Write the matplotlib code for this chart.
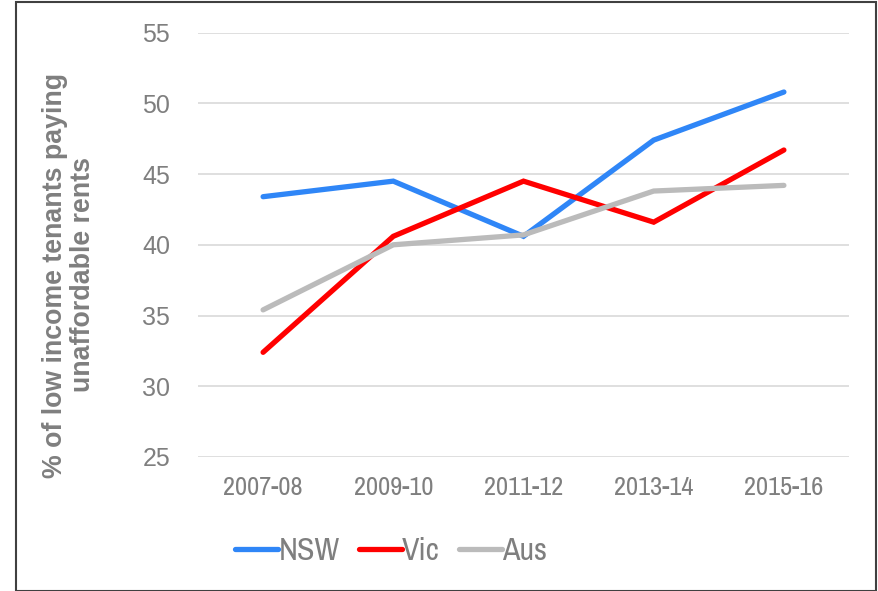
import matplotlib
matplotlib.use("Agg")
import matplotlib.pyplot as plt
from matplotlib.patches import Rectangle
from matplotlib import font_manager

categories = ["2007-08", "2009-10", "2011-12", "2013-14", "2015-16"]
nsw = [43.4, 44.5, 40.6, 47.4, 50.8]
vic = [32.4, 40.6, 44.5, 41.6, 46.7]
aus = [35.4, 40.0, 40.7, 43.8, 44.2]
yticks = [25, 30, 35, 40, 45, 50, 55]

names = {f.name for f in font_manager.fontManager.ttflist}
narrow = "Liberation Sans"
for cand in ["Liberation Sans Narrow", "Arimo Narrow", "Archivo Narrow"]:
    if cand in names:
        narrow = cand
        break

grey = "#7f7f7f"
fig = plt.figure(figsize=(8.79, 5.91), dpi=100)
ax = fig.add_axes([198/879, 1-457/591, (849-198)/879, (457-32.6)/591])

x = list(range(len(categories)))
ax.plot(x, nsw, color="#2f86f7", lw=3.8, label="NSW", solid_capstyle="round", solid_joinstyle="miter")
ax.plot(x, vic, color="#ff0000", lw=3.8, label="Vic", solid_capstyle="round", solid_joinstyle="miter")
ax.plot(x, aus, color="#bbbbbb", lw=3.8, label="Aus", solid_capstyle="round", solid_joinstyle="miter")

ax.set_xlim(-0.5, len(categories)-0.5)
ax.set_ylim(25, 55)
ax.set_yticks(yticks)
ax.set_yticklabels([str(v) for v in yticks], fontfamily="Liberation Sans", fontsize=18, color=grey)
ax.set_xticks(x)
ax.set_xticklabels(categories, fontfamily=narrow, fontsize=19, color=grey)
ax.tick_params(axis="both", length=0)
ax.tick_params(axis="y", pad=20)
ax.tick_params(axis="x", pad=14)
ax.grid(axis="y", color="#d9d9d9", lw=1.2)
ax.set_axisbelow(True)
for s in ax.spines.values():
    s.set_visible(False)

fig.text(69/879, 1-275/591, "% of low income tenants paying\nunaffordable rents",
         rotation=90, ha="center", va="center", fontfamily="Liberation Sans",
         fontweight="bold", fontsize=19.3, color=grey, linespacing=1.05)

leg = fig.legend(loc="center", bbox_to_anchor=(391/879, 1-551/591), ncol=3, frameon=False,
                 prop={"family": narrow, "size": 23}, handlelength=1.35, handletextpad=0.0,
                 columnspacing=0.6, borderpad=0)
for t in leg.get_texts():
    t.set_color(grey)

fig.patches.append(Rectangle((16/879, 0), (876-16)/879, (589)/591, transform=fig.transFigure,
                             fill=False, edgecolor="#404040", lw=1.5))

fig.savefig("out.png", dpi=100)
